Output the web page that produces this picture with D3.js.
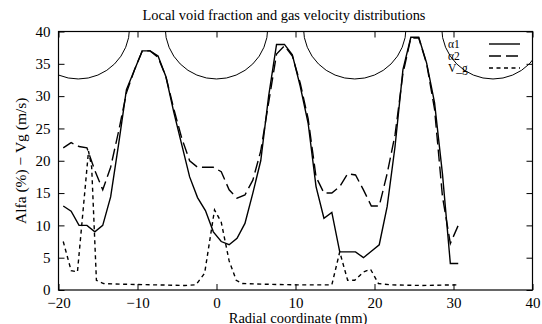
<!DOCTYPE html>
<html>
<head>
<meta charset="utf-8">
<script src="https://cdn.jsdelivr.net/npm/d3@7"></script>
<style>
  body { margin: 0; background: #fff; }
  svg { display: block; }
  svg text { font-family: 'Liberation Serif', 'Times New Roman', serif; }
  .axis path { display: none; }
  .axis line { stroke: #000; stroke-width: 1; }
</style>
</head>
<body>
<svg id="chart" width="542" height="324"></svg>
<script>
// radial positions (mm) for the two void fraction profiles
const radial = [-19.4, -18.4, -17.4, -16.4, -15.4, -14.4, -13.4, -12.4, -11.4, -10.4,
  -9.4, -8.4, -7.4, -6.4, -5.4, -4.4, -3.4, -2.4, -1.4, -0.4,
  0.6, 1.6, 2.6, 3.6, 4.6, 5.6, 6.6, 7.6, 8.6, 9.6,
  10.6, 11.6, 12.6, 13.6, 14.6, 15.6, 16.6, 17.6, 18.6, 19.6,
  20.6, 21.6, 22.6, 23.6, 24.6, 25.6, 26.6, 27.6, 28.6, 29.6, 30.6];

const alpha1 = [13.0, 12.2, 10.0, 10.0, 9.0, 10.0, 14.4, 22.5, 31.0, 34.0,
  37.0, 37.0, 36.2, 33.0, 27.5, 22.5, 17.5, 14.3, 12.3, 9.0,
  7.5, 7.0, 8.0, 10.3, 15.0, 20.0, 30.0, 38.0, 38.0, 36.4,
  31.5, 25.8, 16.0, 11.1, 12.0, 5.9, 5.9, 5.9, 5.0, 6.0,
  7.0, 12.9, 22.2, 34.1, 39.1, 39.1, 35.1, 29.0, 18.0, 4.1, 4.1];

const alpha2 = [22.0, 22.8, 22.2, 22.0, 18.5, 15.5, 19.0, 24.5, 30.5, 34.0,
  37.0, 37.0, 36.0, 33.0, 28.0, 23.5, 20.0, 19.0, 19.0, 19.0,
  18.3, 15.5, 14.2, 14.7, 17.0, 21.5, 29.0, 36.5, 37.8, 36.2,
  32.0, 26.5, 17.5, 15.0, 15.0, 16.0, 18.0, 17.8, 15.5, 13.0,
  13.0, 18.0, 24.0, 33.5, 39.0, 39.0, 35.0, 28.0, 14.5, 7.2, 10.0];

// gas velocity has its own sampling positions
const vgRadial = [-19.4, -18.4, -17.6, -16.2, -15.8, -15.2, -14.3, -12, -8, -4,
  -2.6, -1.5, -0.25, 0.6, 1.6, 2.5, 3.3, 6, 10, 14.6,
  15.6, 16.6, 17.5, 18.6, 19.5, 20.5, 22, 26, 30.6];
const vg = [7.5, 3.0, 2.8, 21.5, 19.0, 1.5, 1.0, 0.9, 0.8, 0.7,
  0.8, 2.6, 12.4, 10.5, 4.5, 1.5, 1.0, 0.9, 0.8, 0.8,
  5.9, 1.5, 1.5, 2.8, 3.2, 1.0, 0.8, 0.7, 0.8];

// bubble outlines along the top of the plot (centre in mm / axis units, radius in mm)
const bubbleX = [-17.5, 0, 17.5, 35];
const bubbleY = 40.6;
const bubbleR = 6.5;

const xTicks = [-20, -10, 0, 10, 20, 30, 40];
const yTicks = [0, 5, 10, 15, 20, 25, 30, 35, 40];

const seriesNames = ['\u03b11', '\u03b12', 'V_g'];
const seriesDash = [null, '12,5', '4,3.5'];

const margin = { left: 58.5, right: 9.5, top: 31.5, bottom: 34 };
const W = 542, H = 324;

const svg = d3.select('#chart');

const x = d3.scaleLinear().domain([-20, 40]).range([margin.left, W - margin.right]);
const y = d3.scaleLinear().domain([0, 40]).range([H - margin.bottom, margin.top]);

svg.append('defs').append('clipPath').attr('id', 'plot-clip')
  .append('rect')
  .attr('x', x(-20)).attr('y', y(40))
  .attr('width', x(40) - x(-20)).attr('height', y(0) - y(40));

function styleAxis(g) {
  g.attr('font-family', null).attr('font-size', 15);
  g.selectAll('text').attr('fill', '#000');
}

// axes with inward ticks, mirrored on top and right
svg.append('g').attr('class', 'axis')
  .attr('transform', `translate(0,${y(0)})`)
  .call(d3.axisBottom(x).tickValues(xTicks).tickSize(-6).tickPadding(7))
  .call(styleAxis);
svg.append('g').attr('class', 'axis')
  .attr('transform', `translate(0,${y(40)})`)
  .call(d3.axisTop(x).tickValues(xTicks).tickSize(-6).tickFormat(''));
svg.append('g').attr('class', 'axis')
  .attr('transform', `translate(${x(-20)},0)`)
  .call(d3.axisLeft(y).tickValues(yTicks).tickSize(-6).tickPadding(8))
  .call(styleAxis);
svg.append('g').attr('class', 'axis')
  .attr('transform', `translate(${x(40)},0)`)
  .call(d3.axisRight(y).tickValues(yTicks).tickSize(-6).tickFormat(''));

// bubbles
const pxPerMm = x(1) - x(0);
svg.append('g').attr('clip-path', 'url(#plot-clip)')
  .selectAll('circle')
  .data(bubbleX)
  .enter()
  .append('circle')
  .attr('cx', d => x(d))
  .attr('cy', y(bubbleY))
  .attr('r', bubbleR * pxPerMm)
  .attr('fill', 'none')
  .attr('stroke', '#000')
  .attr('stroke-width', 1);

// profiles
const line = d3.line().x(d => x(d[0])).y(d => y(d[1]));
const series = [
  d3.zip(radial, alpha1),
  d3.zip(radial, alpha2),
  d3.zip(vgRadial, vg)
];

svg.append('g').attr('clip-path', 'url(#plot-clip)')
  .selectAll('path')
  .data(series)
  .enter()
  .append('path')
  .attr('d', line)
  .attr('fill', 'none')
  .attr('stroke', '#000')
  .attr('stroke-width', 1.4)
  .attr('stroke-dasharray', (d, i) => seriesDash[i]);

// border
svg.append('rect')
  .attr('x', x(-20)).attr('y', y(40))
  .attr('width', x(40) - x(-20)).attr('height', y(0) - y(40))
  .attr('fill', 'none').attr('stroke', '#000').attr('stroke-width', 1.2);

// legend
const legend = svg.append('g');
seriesNames.forEach((name, i) => {
  const ly = 44 + i * 12;
  legend.append('text')
    .attr('x', 448).attr('y', ly + 3.5)
    .attr('font-size', 11.5)
    .text(name);
  legend.append('line')
    .attr('x1', 489).attr('x2', 520)
    .attr('y1', ly).attr('y2', ly)
    .attr('stroke', '#000').attr('stroke-width', 1.4)
    .attr('stroke-dasharray', seriesDash[i]);
});

// titles
svg.append('text')
  .attr('x', 284).attr('y', 19.5)
  .attr('text-anchor', 'middle')
  .attr('font-size', 14.4)
  .text('Local void fraction and gas velocity distributions');

svg.append('text')
  .attr('x', 298).attr('y', 322.5)
  .attr('text-anchor', 'middle')
  .attr('font-size', 14.5)
  .text('Radial coordinate (mm)');

svg.append('text')
  .attr('transform', `translate(26,${(y(0) + y(40)) / 2}) rotate(-90)`)
  .attr('text-anchor', 'middle')
  .attr('font-size', 15.5)
  .text('Alfa (%) \u2212 Vg (m/s)');
</script>
</body>
</html>
